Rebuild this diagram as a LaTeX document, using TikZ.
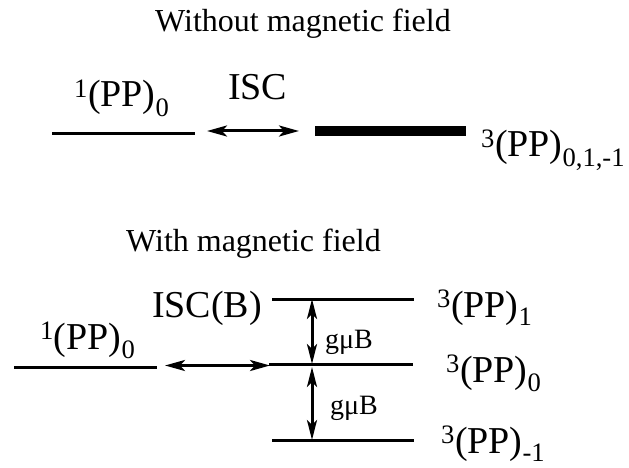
\documentclass[tikz,border=0pt]{standalone}
\usepackage{fontspec}
\setmainfont{Liberation Serif}
\usepackage{tikz}
\usetikzlibrary{arrows.meta, positioning}
\tikzset{
  level_line/.style={line width=3pt},
  level_thick/.style={line width=10pt},
  isc_arrow/.style={{Stealth[length=20pt,width=11pt,inset=5pt]}-{Stealth[length=20pt,width=11pt,inset=5pt]}, line width=3pt},
  gap_arrow/.style={{Stealth[length=20pt,width=10pt,inset=5pt]}-{Stealth[length=20pt,width=10pt,inset=5pt]}, line width=3pt},
  title_text/.style={font=\fontsize{32}{38}\selectfont, anchor=base, inner sep=0pt},
  state_label/.style={font=\fontsize{38}{44}\selectfont, anchor=base west, inner sep=0pt},
  gap_label/.style={font=\fontsize{28}{32}\selectfont, anchor=base west, inner sep=0pt}
}
\newcommand{\pp}[2]{\textsuperscript{#1}(PP)\textsubscript{#2}}

\begin{document}
\begin{tikzpicture}[x=1pt, y=-1pt]
    \useasboundingbox (0,0) rectangle (629,468);

    % Without magnetic field
    \node[title_text] (title_without) at (303,32) {Without magnetic field};
    \coordinate (singlet_a) at (52,134);
    \coordinate (singlet_b) at (195,134);
    \coordinate (triplet_a) at (315,131.5);
    \coordinate (triplet_b) at (466,131.5);
    \coordinate (isc_a) at (207,131);
    \coordinate (isc_b) at (299,131);
    \draw[level_line] (singlet_a) -- (singlet_b);
    \draw[level_thick] (triplet_a) -- (triplet_b);
    \draw[isc_arrow] (isc_a) -- (isc_b);
    \node[state_label] (singlet_label) at (74,107) {\pp{1}{0}};
    \node[state_label] (isc_label) at (228,100) {ISC};
    \node[state_label] (triplet_label) at (481,157) {\pp{3}{0,1,-1}};

    % With magnetic field
    \node[title_text] (title_with) at (253.5,251) {With magnetic field};
    \coordinate (singlet_c) at (14,367);
    \coordinate (singlet_d) at (157,367);
    \coordinate (plus_a) at (272,299);
    \coordinate (plus_b) at (414,299);
    \coordinate (zero_a) at (269,364);
    \coordinate (zero_b) at (413,364);
    \coordinate (minus_a) at (272,440);
    \coordinate (minus_b) at (414,440);
    \draw[level_line] (singlet_c) -- (singlet_d);
    \draw[level_line] (plus_a) -- (plus_b);
    \draw[level_line] (zero_a) -- (zero_b);
    \draw[level_line] (minus_a) -- (minus_b);
    \coordinate (iscb_a) at (165,365.5);
    \coordinate (iscb_b) at (270,365.5);
    \draw[isc_arrow] (iscb_a) -- (iscb_b);
    \coordinate (gap_top) at (312,299);
    \coordinate (gap_mid) at (312,364);
    \coordinate (gap_mid_low) at (312,367);
    \coordinate (gap_bot) at (312,440);
    \draw[gap_arrow] (gap_top) -- (gap_mid);
    \draw[gap_arrow] (gap_mid_low) -- (gap_bot);
    \node[state_label] (singlet_label_b) at (40,349) {\pp{1}{0}};
    \node[state_label] (iscb_label) at (152,317) {ISC(B)};
    \node[gap_label] (gap_label_up) at (325,348) {gμB};
    \node[gap_label] (gap_label_down) at (330,414) {gμB};
    \node[state_label] (plus_label) at (437,317) {\pp{3}{1}};
    \node[state_label] (zero_label) at (446,382) {\pp{3}{0}};
    \node[state_label] (minus_label) at (441,453) {\pp{3}{-1}};
\end{tikzpicture}
\end{document}
